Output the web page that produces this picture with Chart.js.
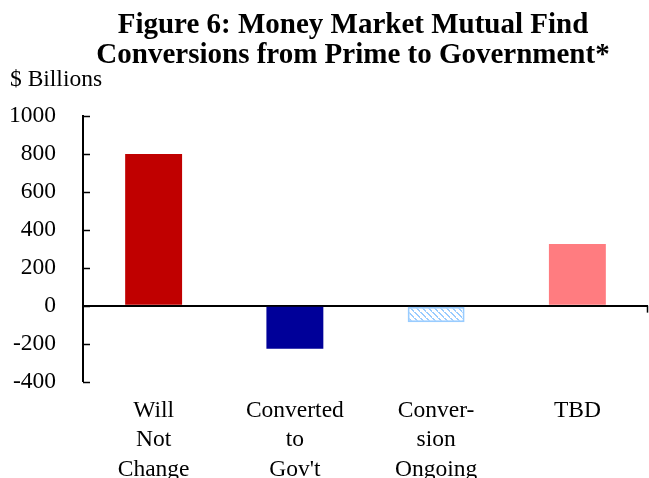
<!DOCTYPE html>
<html>
<head>
<meta charset="utf-8">
<script src="https://cdn.jsdelivr.net/npm/chart.js@4/dist/chart.umd.min.js"></script>
<style>
  html, body { margin: 0; padding: 0; background: #fff; }
  #wrap { width: 649px; height: 478px; position: relative; }
</style>
</head>
<body>
<div id="wrap"><canvas id="c" width="649" height="478"></canvas></div>
<script>
const categories = [["Will", "Not", "Change"], ["Converted", "to", "Gov't"], ["Conver-", "sion", "Ongoing"], ["TBD"]];
const values = [800, -227, -87, 325];
const yTicks = [-400, -200, 0, 200, 400, 600, 800, 1000];
const titleLines = ["Figure 6: Money Market Mutual Find", "Conversions from Prime to Government*"];
const unitLabel = "$ Billions";

const SERIF = "'Liberation Serif', 'Times New Roman', serif";

function hatch() {
  const t = document.createElement('canvas');
  t.width = 6; t.height = 6;
  const g = t.getContext('2d');
  g.fillStyle = '#ffffff';
  g.fillRect(0, 0, 6, 6);
  g.fillStyle = '#99ccff';
  for (let i = 0; i < 6; i++) {
    g.fillRect(i, i, 2, 1);
  }
  return g.createPattern(t, 'repeat');
}

const ctx = document.getElementById('c').getContext('2d');
const fills = ['#c00000', '#000099', hatch(), '#ff7c80'];
const borders = ['#c00000', '#000099', '#99ccff', '#ff7c80'];
const borderW = [0, 0, 2, 0];

const decor = {
  id: 'decor',
  afterDraw(chart) {
    const c = chart.ctx;
    const y = chart.scales.y;
    const ca = chart.chartArea;
    c.save();
    c.strokeStyle = '#000';
    c.lineWidth = 1.5;
    yTicks.forEach(v => {
      const py = Math.round(y.getPixelForValue(v)) + 0.5;
      c.beginPath();
      c.moveTo(ca.left, py);
      c.lineTo(ca.left + 7, py);
      c.stroke();
    });
    const zy = y.getPixelForValue(0);
    c.beginPath();
    c.moveTo(ca.right - 0.5, zy);
    c.lineTo(ca.right - 0.5, zy + 7);
    c.stroke();
    c.fillStyle = '#000';
    c.textAlign = 'center';
    c.textBaseline = 'alphabetic';
    c.font = "bold 29px " + SERIF;
    const cx = 353;
    c.fillText(titleLines[0], cx, 32.5);
    c.fillText(titleLines[1], cx, 62.5);
    c.textAlign = 'left';
    c.font = "23.5px " + SERIF;
    c.fillText(unitLabel, 10, 86);
    c.restore();
  }
};

new Chart(ctx, {
  type: 'bar',
  data: {
    labels: categories,
    datasets: [{
      data: values,
      backgroundColor: fills,
      borderColor: borders,
      borderWidth: borderW,
      borderSkipped: false,
      categoryPercentage: 1.0,
      barPercentage: 0.403
    }]
  },
  options: {
    responsive: false,
    animation: false,
    devicePixelRatio: 1,
    layout: { padding: { top: 116, right: 1, left: 0, bottom: 0 } },
    plugins: {
      legend: { display: false },
      title: { display: false },
      tooltip: { enabled: false }
    },
    scales: {
      x: {
        grid: { display: false, drawTicks: false },
        border: { display: false },
        ticks: {
          color: '#000',
          font: { family: SERIF, size: 23.5, lineHeight: 1.24 },
          padding: 15,
          maxRotation: 0,
          autoSkip: false
        },
        afterFit(s) { s.height = 96.5; }
      },
      y: {
        min: -400,
        max: 1000,
        afterBuildTicks(s) { s.ticks = yTicks.map(v => ({ value: v })); },
        grid: {
          drawTicks: false,
          drawOnChartArea: true,
          color: c => (c.tick && c.tick.value === 0) ? '#000' : 'rgba(0,0,0,0)',
          lineWidth: c => (c.tick && c.tick.value === 0) ? 2 : 0
        },
        border: { display: true, color: '#000', width: 2 },
        ticks: {
          color: '#000',
          font: { family: SERIF, size: 23.5 },
          padding: 27,
          callback: v => String(v)
        },
        afterFit(s) { s.width = 83; }
      }
    }
  },
  plugins: [decor]
});
</script>
</body>
</html>
